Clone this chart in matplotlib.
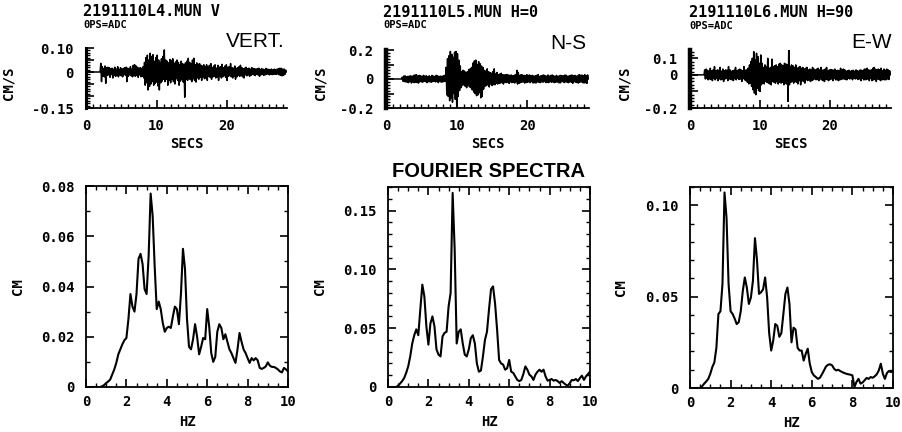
import numpy as np
import matplotlib.pyplot as plt
from matplotlib.ticker import MultipleLocator, FixedLocator, FixedFormatter

W, H = 902, 432

# -------------------------------
# Velocity traces (units: 0.001 cm/s), sampled every 0.1 s
# -------------------------------
trace_dt = 0.1

vert_t0 = 2.0
vert_vel = [
    0, 36, -40, 22, -18, 15, -20, 25, -47, 18,
    -15, 20, -12, 18, -22, 14, -10, 16, -25, 12,
    -14, 20, -18, 12, -15, 22, -20, 10, -12, 18,
    -16, 12, -20, 15, -10, 18, -14, 20, -40, 16,
    -18, 14, -12, 22, -16, 12, -20, 28, -15, 30,
    -18, 25, -14, 20, -22, 16, -12, 18, -20, 15,
    -18, 22, -25, 40, -55, 60, -45, 70, -75, 50,
    -60, 78, -50, 65, -40, 72, -55, 45, -48, 60,
    -42, 70, -58, 50, -75, 40, -45, 55, -38, 65,
    -30, 92, -40, 50, -30, 45, -55, 38, -35, 52,
    -45, 48, -30, 55, -40, 35, -50, 42, -28, 50,
    -35, 40, -55, 30, -38, 45, -30, 35, -42, 30,
    -105, 38, -30, 45, -35, 57, -28, 40, -32, 35,
    -40, 50, -28, 57, -35, 30, -42, 38, -25, 32,
    -30, 35, -22, 28, -35, 25, -20, 30, -28, 22,
    -25, 30, -35, 20, -18, 28, -22, 35, -30, 18,
    -20, 25, -18, 30, -25, 16, -22, 28, -35, 20,
    -18, 22, -25, 32, -20, 18, -15, 25, -22, 30,
    -35, 20, -18, 22, -15, 35, -20, 18, -25, 16,
    -18, 25, -30, 15, -20, 18, -14, 22, -18, 28,
    -15, 18, -20, 14, -25, 16, -12, 20, -16, 14,
    -12, 16, -18, 12, -14, 18, -10, 15, -12, 14,
    -15, 12, -10, 14, -12, 16, -18, 10, -12, 14,
    -10, 12, -14, 10, -12, 15, -10, 12, -8, 11,
    -12, 10, -9, 12, -11, 8, -10, 12, -9, 10,
    -10, 12, -8, 14, -12, 16, -14, 15, -16, 12,
    -14, 12, -10, 8, 0,
]

ns_t0 = 2.0
ns_vel = [
    0, 0, 0, 12, -15, 20, -18, 22, -20, 15,
    -22, 18, -25, 20, -15, 22, -28, 18, -20, 25,
    -25, 28, -22, 30, -25, 20, -28, 25, -18, 22,
    -20, 18, -22, 25, -15, 20, -18, 22, -25, 15,
    -18, 22, -20, 15, -22, 25, -18, 20, -15, 18,
    -20, 25, -18, 22, -25, 18, -15, 20, -22, 18,
    -20, 22, -18, 25, -15, 80, -110, 140, -120, 160,
    -150, 190, -130, 170, -160, 150, -100, 185, -140, 190,
    -195, 175, -120, 130, -80, 90, -60, 50, -45, 60,
    -40, 55, -50, 45, -60, 50, -40, 65, -55, 70,
    -60, 80, -75, 110, -90, 125, -100, 130, -115, 100,
    -110, 120, -95, 105, -130, 90, -120, 80, -70, 60,
    -50, 55, -45, 70, -40, 50, -55, 45, -35, 40,
    -45, 50, -38, 70, -40, 35, -30, 45, -35, 30,
    -30, 35, -28, 40, -25, 30, -35, 28, -22, 30,
    -25, 30, -22, 28, -30, 25, -20, 28, -25, 22,
    -22, 25, -28, 30, -20, 60, -35, 45, -30, 25,
    -25, 30, -22, 28, -20, 25, -28, 22, -25, 30,
    -22, 25, -20, 28, -25, 22, -18, 25, -28, 20,
    -25, 22, -28, 25, -20, 30, -22, 18, -25, 22,
    -20, 25, -22, 28, -18, 22, -25, 20, -22, 28,
    -25, 20, -18, 25, -22, 28, -20, 22, -25, 18,
    -22, 25, -20, 18, -25, 22, -28, 25, -20, 22,
    -18, 22, -25, 28, -20, 25, -22, 18, -25, 22,
    -20, 25, -22, 28, -30, 22, -18, 25, -22, 20,
    -25, 22, -28, 30, -22, 25, -20, 28, -25, 22,
    -28, 30, -25, 22, -30, 28, 0,
]

ew_t0 = 2.0
ew_vel = [
    0, 30, -25, 35, -20, 28, -30, 22, -25, 40,
    -28, 25, -35, 30, -20, 50, -30, 25, -22, 30,
    -35, 28, -25, 45, -30, 22, -28, 35, -40, 25,
    -25, 30, -22, 28, -35, 50, -25, 30, -28, 22,
    -30, 25, -35, 28, -22, 45, -30, 25, -20, 30,
    -28, 35, -25, 30, -40, 25, -22, 50, -30, 28,
    -35, 30, -45, 40, -55, 60, -50, 80, -70, 100,
    -90, 140, -110, 90, -120, 130, -80, 110, -95, 70,
    -100, 120, -60, 70, -50, 45, -55, 60, -40, 50,
    -45, 100, -50, 40, -55, 45, -60, 95, -40, 50,
    -45, 55, -50, 60, -40, 50, -55, 65, -45, 70,
    -50, 60, -45, 55, -60, 70, -50, 65, -55, 60,
    -160, 150, -60, 50, -45, 60, -40, 55, -50, 45,
    -40, 60, -45, 40, -55, 45, -35, 50, -60, 40,
    -35, 45, -40, 35, -50, 40, -30, 45, -35, 30,
    -30, 35, -40, 30, -35, 45, -30, 35, -25, 30,
    -30, 35, -28, 40, -35, 30, -25, 45, -30, 28,
    -35, 30, -40, 35, -28, 45, -30, 25, -35, 30,
    -28, 32, -25, 30, -35, 28, -22, 35, -30, 25,
    -30, 28, -35, 25, -30, 40, -28, 30, -25, 35,
    -25, 30, -28, 22, -30, 25, -20, 28, -25, 22,
    -22, 25, -30, 28, -20, 22, -25, 30, -22, 25,
    -28, 22, -25, 30, -35, 28, -22, 25, -30, 35,
    -30, 35, -28, 40, -25, 30, -35, 28, -22, 30,
    -35, 40, -30, 45, -28, 35, -40, 30, -25, 35,
    -28, 30, -35, 40, -30, 25, -28, 35, -30, 28,
    -30, 35, -25, 30, -28, 25, 0,
]

# -------------------------------
# Fourier spectra (cm), 0.0 .. 10.0 Hz every 0.1 Hz
# -------------------------------
freq = np.round(np.arange(101) * 0.1, 1)

vert_spec = [
    0, 0, 0, 0, 0, 0, 0, 0, 0.0003, 0.0008,
    0.0016, 0.0022, 0.003, 0.005, 0.007, 0.0096, 0.013, 0.015, 0.017, 0.0186,
    0.0195, 0.027, 0.037, 0.032, 0.030, 0.037, 0.051, 0.053, 0.049, 0.039,
    0.037, 0.052, 0.077, 0.068, 0.048, 0.031, 0.034, 0.031, 0.0255, 0.022,
    0.0235, 0.024, 0.0235, 0.028, 0.032, 0.031, 0.025, 0.037, 0.055, 0.047,
    0.027, 0.016, 0.015, 0.019, 0.025, 0.020, 0.013, 0.016, 0.0195, 0.019,
    0.031, 0.024, 0.0135, 0.010, 0.012, 0.022, 0.025, 0.0235, 0.019, 0.021,
    0.018, 0.015, 0.0135, 0.0115, 0.0096, 0.015, 0.0215, 0.018, 0.015, 0.0135,
    0.0115, 0.0096, 0.0115, 0.0106, 0.0115, 0.0106, 0.0076, 0.0072, 0.0076, 0.0082,
    0.0098, 0.0085, 0.008, 0.008, 0.0076, 0.007, 0.0062, 0.0058, 0.0076, 0.007,
    0.0062,
]

ns_spec = [
    0, 0, 0, 0, 0, 0.001, 0.003, 0.005, 0.0076, 0.012,
    0.0175, 0.026, 0.037, 0.044, 0.049, 0.044, 0.066, 0.087, 0.077, 0.0515,
    0.036, 0.054, 0.060, 0.0515, 0.032, 0.0275, 0.026, 0.043, 0.046, 0.047,
    0.0685, 0.080, 0.165, 0.117, 0.037, 0.047, 0.049, 0.037, 0.0275, 0.026,
    0.032, 0.0415, 0.044, 0.037, 0.020, 0.013, 0.014, 0.026, 0.040, 0.047,
    0.066, 0.083, 0.0855, 0.071, 0.049, 0.023, 0.020, 0.019, 0.0147, 0.016,
    0.023, 0.013, 0.012, 0.009, 0.006, 0.005, 0.006, 0.011, 0.0175, 0.0147,
    0.0105, 0.009, 0.006, 0.0105, 0.013, 0.0147, 0.013, 0.0147, 0.009, 0.0054,
    0.006, 0.0068, 0.0054, 0.006, 0.005, 0.0034, 0.005, 0.0034, 0.002, 0.001,
    0.0034, 0.006, 0.0057, 0.0068, 0.005, 0.0076, 0.0096, 0.006, 0.009, 0.011,
    0.013,
]

ew_spec = [
    0, 0, 0, 0, 0, 0, 0.001, 0.0024, 0.0036, 0.005,
    0.0078, 0.0115, 0.014, 0.022, 0.0405, 0.042, 0.057, 0.107, 0.093, 0.057,
    0.042, 0.0405, 0.038, 0.035, 0.036, 0.042, 0.053, 0.0605, 0.055, 0.046,
    0.0495, 0.0587, 0.082, 0.070, 0.0515, 0.0524, 0.054, 0.0605, 0.0495, 0.030,
    0.0205, 0.026, 0.035, 0.034, 0.028, 0.030, 0.0405, 0.0515, 0.055, 0.046,
    0.025, 0.033, 0.032, 0.022, 0.0205, 0.0205, 0.015, 0.0187, 0.0215, 0.0133,
    0.0087, 0.0069, 0.006, 0.005, 0.0056, 0.0075, 0.0096, 0.0118, 0.0127, 0.013,
    0.0124, 0.0105, 0.0096, 0.01, 0.0093, 0.0087, 0.0082, 0.0078, 0.0075, 0.0073,
    0.0069, 0.0005, 0.0033, 0.005, 0.0024, 0.003, 0.0042, 0.0055, 0.005, 0.006,
    0.0056, 0.0064, 0.0075, 0.0096, 0.0133, 0.0078, 0.005, 0.0082, 0.0093, 0.0087,
    0.0096,
]

# -------------------------------
# Labels
# -------------------------------
trace_titles = ["2191110L4.MUN V", "2191110L5.MUN H=0", "2191110L6.MUN H=90"]
trace_sub = "0PS=ADC"
comp_names = ["VERT.", "N-S", "E-W"]

trace_ylims = [(-0.15, 0.10), (-0.2, 0.2), (-0.2, 0.15)]
trace_yticks = [[-0.15, -0.10, -0.05, 0, 0.05, 0.10],
                [-0.2, -0.1, 0, 0.1, 0.2],
                [-0.2, -0.1, 0, 0.1]]
trace_ylabels = [["-0.15", "", "", "0", "", "0.10"],
                 ["-0.2", "", "0", "", "0.2"],
                 ["-0.2", "", "0", "0.1"]]

spec_ylims = [0.08, 0.17, 0.11]
spec_yticks = [[0, 0.02, 0.04, 0.06, 0.08], [0, 0.05, 0.10, 0.15], [0, 0.05, 0.10]]
spec_ylabels = [["0", "0.02", "0.04", "0.06", "0.08"],
                ["0", "0.05", "0.10", "0.15"],
                ["0", "0.05", "0.10"]]

# -------------------------------
# Layout in pixels (left, top, right, bottom)
# -------------------------------
top_boxes = [(86, 48, 287, 108), (386, 50, 589, 108), (690, 50, 891, 108)]
bot_boxes = [(86, 186, 288, 387), (388, 187, 590, 387), (690, 187, 893, 388)]
top_xmax = [28.5, 28.7, 28.7]
top_ylab_x = [-0.353, -0.286, -0.289]
bot_ylab_x = [-0.302, -0.302, -0.305]
title_xy = [(83, 16), (383, 17), (689, 17)]
sub_xy = [(83, 28), (383, 28), (689, 29)]
comp_xy = [(285, 47), (586, 49), (892, 48)]


def rect(b):
    l, t, r, bt = b
    return [l / W, 1 - bt / H, (r - l) / W, (bt - t) / H]


def fxy(x, y):
    return x / W, 1 - y / H


mono = dict(family="DejaVu Sans Mono", weight="bold")


def style_ticks(ax, xpad, ypad):
    ax.tick_params(which="major", length=6, width=1.2)
    ax.tick_params(which="minor", length=3, width=1.0)
    ax.tick_params(axis="x", which="major", pad=xpad)
    ax.tick_params(axis="y", which="major", pad=ypad)
    for lab in ax.get_xticklabels() + ax.get_yticklabels():
        lab.set_fontfamily(mono["family"])
        lab.set_fontweight("bold")
        lab.set_fontsize(10)


fig = plt.figure(figsize=(W / 100, H / 100), dpi=100)

traces = [(vert_t0, vert_vel), (ns_t0, ns_vel), (ew_t0, ew_vel)]
specs = [vert_spec, ns_spec, ew_spec]

for i in range(3):
    # ---- time series ----
    ax = fig.add_axes(rect(top_boxes[i]))
    t0, vel = traces[i]
    t = t0 + trace_dt * np.arange(len(vel))
    v = np.array(vel) / 1000.0
    ax.plot(np.r_[0.0, t], np.r_[0.0, v], color="black", lw=1.1)
    ax.set_xlim(0, top_xmax[i])
    ax.set_ylim(*trace_ylims[i])
    for s in ["top", "right"]:
        ax.spines[s].set_visible(False)
    ax.spines["left"].set_linewidth(2.2 if i == 0 else 3.2)
    ax.spines["bottom"].set_linewidth(1.3)
    ax.xaxis.set_major_locator(FixedLocator([0, 10, 20]))
    ax.xaxis.set_minor_locator(MultipleLocator(1))
    ax.yaxis.set_major_locator(FixedLocator(trace_yticks[i]))
    ax.yaxis.set_major_formatter(FixedFormatter(trace_ylabels[i]))
    ax.yaxis.set_minor_locator(MultipleLocator(0.01 if i == 0 else 0.02))
    ax.tick_params(which="both", direction="in", top=False, right=False, color="black")
    style_ticks(ax, 8, 9)
    ax.set_xlabel("SECS", fontsize=10, labelpad=3, **mono)
    ax.set_ylabel("CM/S", fontsize=10, **mono)
    ax.yaxis.set_label_coords(top_ylab_x[i], 0.42)

    fig.text(*fxy(*title_xy[i]), trace_titles[i], fontsize=11, ha="left", va="baseline", **mono)
    fig.text(*fxy(*sub_xy[i]), trace_sub, fontsize=7.5, ha="left", va="baseline", **mono)
    fig.text(*fxy(*comp_xy[i]), comp_names[i], fontsize=15, ha="right", va="baseline",
             family="Liberation Sans")

    # ---- spectra ----
    ax = fig.add_axes(rect(bot_boxes[i]))
    ax.plot(freq, specs[i], color="black", lw=1.5)
    ax.set_xlim(0, 10)
    ax.set_ylim(0, spec_ylims[i])
    for s in ax.spines.values():
        s.set_linewidth(1.3)
    ax.xaxis.set_major_locator(MultipleLocator(2))
    ax.xaxis.set_minor_locator(MultipleLocator(0.5))
    ax.yaxis.set_major_locator(FixedLocator(spec_yticks[i]))
    ax.yaxis.set_major_formatter(FixedFormatter(spec_ylabels[i]))
    ax.yaxis.set_minor_locator(MultipleLocator(0.01))
    ax.tick_params(which="both", direction="in", top=True, right=True, color="black")
    style_ticks(ax, 6, 8)
    ax.set_xlabel("HZ", fontsize=10, **mono)
    ax.xaxis.set_label_coords(0.5, -0.14)
    ax.set_ylabel("CM", fontsize=10, **mono)
    ax.yaxis.set_label_coords(bot_ylab_x[i], 0.5)

fig.text(*fxy(488, 177), "FOURIER SPECTRA", fontsize=14.5, weight="bold",
         ha="center", va="baseline", family="Liberation Sans")

fig.savefig("out.png", dpi=100)
